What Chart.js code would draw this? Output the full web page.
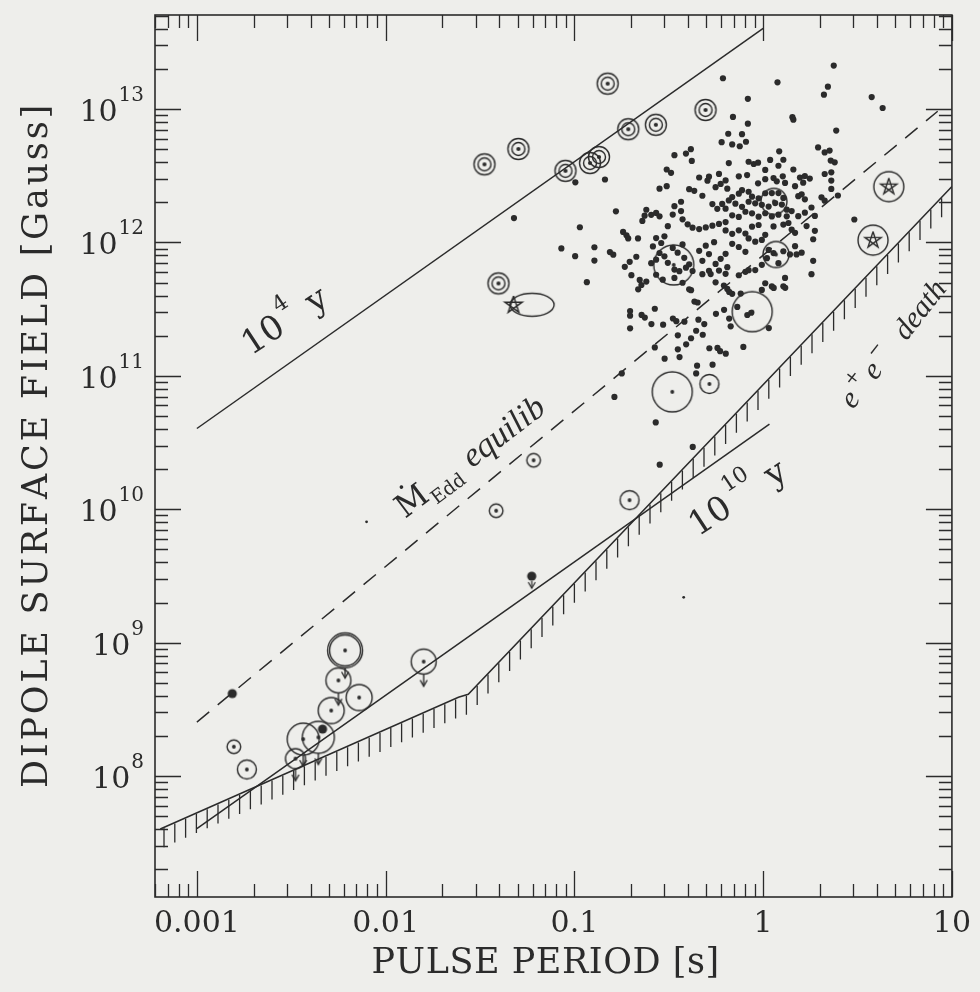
<!DOCTYPE html>
<html><head><meta charset="utf-8">
<script src="https://cdn.jsdelivr.net/npm/chart.js@4.4.1/dist/chart.umd.min.js"></script>
<style>html,body{margin:0;padding:0;background:#eeeeeb;}canvas{display:block;}</style>
</head><body>
<canvas id="c" width="980" height="992"></canvas>
<script>
// ---------------- data ----------------
const periodRange = [0.00064, 10];          // s
const fieldRange = [1.24e7, 5.07e13];       // Gauss
const xTickValues = [0.001, 0.01, 0.1, 1, 10];
const xTickLabels = ['0.001', '0.01', '0.1', '1', '10'];
const yTickValues = [1e8, 1e9, 1e10, 1e11, 1e12, 1e13];
const yTickExponents = ['8', '9', '10', '11', '12', '13'];

// reference lines [period s, field G]
const age1e4Line = [[0.001, 4.03e10], [1.0, 4.03e13]];
const age1e10Line = [[0.001, 4.03e7], [1.08, 4.35e10]];
const eddEquilibLine = [[0.001, 2.54e8], [8.41, 9.62e12]];
const deathLine = [[0.00064, 4.01e7], [0.0243, 3.90e8], [0.0274, 4.10e8], [10, 2.63e12]];

// special objects [period s, field G]
const binaryPulsars = [[0.0334,3.85e12],[0.0505,5.02e12],[0.0897,3.44e12],[0.121,3.94e12],[0.135,4.37e12],
  [0.150,1.55e13],[0.193,7.06e12],[0.270,7.62e12],[0.495,9.84e12],[0.0396,4.93e11]];
const ringedStars = [[4.63,2.62e12],[3.82,1.04e12]];
const ellipseStar = [[0.0476,3.40e11]];
const ellipseCentre = [[0.0597,3.41e11]];
const smallRings = [[0.0608,2.33e10],[0.0385,9.75e9],[0.00157,1.66e8]];
const mediumRings = [[0.196,1.17e10],[0.519,8.69e10],[0.00184,1.12e8]];
const largeRings = [[0.875,3.03e11],[0.330,7.59e10],[0.336,6.79e11]];
const plainRings = [[0.00724,3.88e8],[0.00515,3.10e8],[1.14,2.03e12],[1.17,8.13e11]];
const limitRings = [[0.00562,5.21e8],[0.0159,7.21e8]];
const bigLimitRings = [[0.00366,1.89e8],[0.00440,1.95e8]];
const smallLimitRings = [[0.00333,1.35e8]];
const doubleLimitRings = [[0.00610,8.75e8]];
const filledDots = [[0.00154,4.15e8],[0.00463,2.25e8]];
const filledLimitDots = [[0.0594,3.15e9]];
const faintDots = [[-2.101,9.906],[-0.421,9.340]]; // log10 P, log10 B

// ordinary radio pulsars: [log10 P (s), log10 B (G)]
const pulsarLogReadings = [
[0.374,13.326],[0.076,13.200],[-0.213,13.231],[0.343,13.168],[0.322,13.108],[0.575,13.090],[0.633,13.008],[-0.081,13.077],[0.155,12.939],[0.160,12.920],[-0.160,12.941],[-0.081,12.890],
[-0.995,12.451],[-0.971,12.114],[-1.069,11.955],[-0.996,11.897],[-0.934,11.702],[-1.320,12.183],[0.483,12.172],
[-0.185,12.815],[-0.112,12.812],[-0.220,12.752],[-0.164,12.735],[-0.124,12.721],[-0.091,12.755],[0.387,12.839],
[-0.470,12.654],[-0.409,12.666],[-0.383,12.699],[-0.378,12.611],[-0.511,12.547],[-0.488,12.522],[-0.838,12.472],[-0.549,12.403],[-0.511,12.422],
[-0.182,12.595],[-0.077,12.605],[-0.050,12.588],[-0.027,12.598],[0.011,12.544],[0.037,12.619],[0.085,12.683],[0.107,12.620],[0.081,12.575],[0.160,12.547],
[-0.339,12.487],[-0.287,12.493],[-0.295,12.463],[-0.234,12.514],[-0.199,12.465],[-0.129,12.496],[-0.085,12.505],[-0.027,12.443],[0.011,12.474],[0.055,12.483],[0.104,12.496],[0.072,12.458],[0.116,12.446],[0.195,12.486],[0.221,12.498],[0.247,12.479],[0.212,12.448],[0.326,12.513],[0.361,12.526],[0.291,12.712],[0.326,12.675],[0.352,12.689],[0.358,12.614],[0.379,12.601],[0.361,12.464],
[-0.392,12.399],[-0.365,12.387],[-0.322,12.350],[-0.252,12.414],[-0.225,12.439],[-0.190,12.403],[-0.164,12.340],[-0.129,12.366],[-0.112,12.392],[-0.077,12.380],[-0.059,12.343],[-0.024,12.331],[0.011,12.369],[0.046,12.370],[0.081,12.370],[0.107,12.334],[0.169,12.422],[0.186,12.347],[0.204,12.361],[0.221,12.323],[0.309,12.338],[0.326,12.313],[0.361,12.401],[0.396,12.352],
[-0.780,12.233],[-0.619,12.245],[-0.628,12.201],[-0.640,12.161],[-0.593,12.207],[-0.567,12.221],[-0.549,12.196],[-0.470,12.272],[-0.435,12.305],[-0.479,12.209],[-0.435,12.235],[-0.269,12.288],[-0.243,12.252],[-0.217,12.289],[-0.199,12.253],[-0.182,12.315],[-0.147,12.291],[-0.112,12.267],[-0.077,12.305],[-0.042,12.293],[-0.007,12.282],[0.029,12.269],[0.064,12.295],[0.099,12.284],[0.125,12.246],
[-0.427,12.173],[-0.400,12.136],[-0.374,12.111],[-0.339,12.100],[-0.304,12.113],[-0.269,12.126],[-0.234,12.139],[-0.199,12.153],[-0.164,12.203],[-0.129,12.191],[-0.094,12.230],[-0.059,12.218],[-0.024,12.193],[0.011,12.219],[0.046,12.195],[0.081,12.208],[0.125,12.196],[0.151,12.235],[0.186,12.197],[0.221,12.223],[0.256,12.262],[0.274,12.199],
[-0.742,12.079],[-0.724,12.054],[-0.715,12.030],[-0.663,12.030],[-0.523,12.046],[-0.505,12.122],[-0.567,12.033],[-0.540,11.996],[-0.584,11.970],[-0.199,12.090],[-0.164,12.065],[-0.129,12.091],[-0.094,12.067],[-0.059,12.118],[-0.024,12.131],[0.011,12.057],[0.055,12.120],[0.107,12.134],[0.134,12.146],[0.151,12.097],[0.169,12.072],[0.230,12.123],[0.274,12.087],[0.265,12.024],
[-0.894,11.964],[-0.894,11.864],[-0.812,11.928],[-0.794,11.908],[-0.672,11.893],[-0.707,11.855],[-0.733,11.817],[-0.698,11.755],[-0.654,11.719],[-0.619,11.707],[-0.593,11.845],[-0.567,11.871],[-0.549,11.921],[-0.523,11.896],[-0.505,11.847],[-0.479,11.959],[-0.453,11.923],[-0.427,11.985],[-0.418,11.885],[-0.470,11.797],[-0.444,11.785],[-0.409,11.811],[-0.392,11.836],[-0.374,11.786],[-0.339,11.937],[-0.304,11.976],[-0.287,11.913],[-0.260,12.002],[-0.322,11.862],[-0.287,11.788],[-0.252,11.839],[-0.225,11.877],[-0.199,11.915],[-0.190,11.815],[-0.164,11.990],[-0.129,11.966],[-0.094,11.930],[-0.077,12.030],[-0.042,12.006],[-0.007,12.019],[0.029,11.944],[0.020,11.882],[0.055,11.920],[0.081,11.845],[0.107,11.934],[0.142,11.910],[0.169,11.972],[0.177,11.910],[0.204,11.923],[0.265,11.862],[0.256,11.762],[0.116,11.734],
[-0.567,11.758],[-0.532,11.721],[-0.470,11.734],[-0.427,11.698],[-0.392,11.649],[-0.322,11.762],[-0.278,11.763],[-0.234,11.789],[-0.199,11.765],[-0.129,11.754],[-0.094,11.780],[-0.077,11.792],[-0.042,11.793],[-0.007,11.832],[0.011,11.694],[0.046,11.670],[0.107,11.671],[-0.645,11.681],[-0.252,11.701],[-0.208,11.677],[-0.190,11.652],[-0.164,11.615],[-0.007,11.644],
[-0.662,11.649],[-0.382,11.642],[-0.180,11.629],[-0.119,11.617],[0.056,11.659],[0.117,11.660],[-0.364,11.557],[-0.347,11.550],[-0.574,11.503],[-0.705,11.486],[-0.705,11.451],[-0.644,11.457],[-0.627,11.437],[-0.478,11.430],[-0.460,11.410],[-0.417,11.406],[-0.343,11.421],[-0.312,11.388],[-0.250,11.465],[-0.207,11.495],[-0.180,11.429],[-0.172,11.371],[-0.137,11.517],[-0.084,11.456],[-0.063,11.473],[0.030,11.358],[-0.705,11.356],[-0.592,11.388],[-0.530,11.384],[-0.452,11.304],[-0.382,11.282],[-0.408,11.236],[-0.355,11.338],[-0.320,11.308],[-0.574,11.213],[-0.452,11.199],[-0.443,11.141],[-0.285,11.207],[-0.242,11.209],[-0.228,11.185],[-0.198,11.166],[-0.105,11.217],[-0.522,11.129],[-0.350,11.076],[-0.355,11.018],[-0.268,11.084],[-0.749,11.018],[-0.788,10.842],[-0.569,10.651],[-0.373,10.467],[-0.548,10.334]
];

// ---------------- styling ----------------
const INK = '#2b2b2b';
const SERIF = '"DejaVu Serif", serif';
const ITAL = '"Liberation Serif", serif';
const pts = arr => arr.map(([p, b]) => ({x: p, y: b}));
const logPts = arr => arr.map(([lp, lb]) => ({x: Math.pow(10, lp), y: Math.pow(10, lb)}));

function marker(half, draw) {
  const c = document.createElement('canvas');
  c.width = c.height = half * 2;
  const g = c.getContext('2d');
  g.translate(half, half);
  g.strokeStyle = INK; g.fillStyle = INK; g.lineWidth = 1.4;
  draw(g);
  return c;
}
const ring = (g, r) => { g.beginPath(); g.arc(0, 0, r, 0, Math.PI * 2); g.stroke(); };
const dot = (g, r) => { g.beginPath(); g.arc(0, 0, r, 0, Math.PI * 2); g.fill(); };
const arrow = (g, from, len) => {
  g.beginPath(); g.moveTo(0, from); g.lineTo(0, from + len); g.stroke();
  g.beginPath(); g.moveTo(-3.5, from + len - 6); g.lineTo(0, from + len); g.lineTo(3.5, from + len - 6); g.stroke();
};
const star = (g, R) => {
  g.beginPath();
  for (let i = 0; i <= 5; i++) {
    const k = (i * 2) % 5, a = -Math.PI / 2 + k * 2 * Math.PI / 5;
    const px = R * Math.cos(a), py = R * Math.sin(a);
    if (i === 0) g.moveTo(px, py); else g.lineTo(px, py);
  }
  g.stroke();
};
const ringDot = (r) => marker(Math.ceil(r) + 3, g => { ring(g, r); dot(g, 1.9); });
const ringDotArrow = (r, len) => marker(Math.ceil(r + len) + 3, g => { ring(g, r); dot(g, 1.9); arrow(g, r, len); });

const M = {
  binary: marker(14, g => { ring(g, 10.5); ring(g, 6.5); dot(g, 2.1); }),
  ringedStar: marker(18, g => { ring(g, 15); g.lineWidth = 1.4; star(g, 8.5); }),
  star: marker(12, g => { g.lineWidth = 1.5; star(g, 9); }),
  ellipse: marker(26, g => { g.beginPath(); g.ellipse(0, 0, 22, 11.5, 0, 0, Math.PI * 2); g.stroke(); }),
  small: ringDot(6.8),
  medium: ringDot(9.5),
  large: ringDot(20),
  plain: ringDot(13),
  limit: ringDotArrow(12.5, 12),
  bigLimit: ringDotArrow(16, 11),
  smallLimit: ringDotArrow(10, 12),
  doubleLimit: marker(32, g => { ring(g, 17.5); ring(g, 15.5); dot(g, 1.9); arrow(g, 17.5, 10); }),
  filled: marker(8, g => dot(g, 4.6)),
  filledLimit: marker(16, g => { dot(g, 4.6); g.lineWidth = 1.2; arrow(g, 5, 7); })
};

const lineDs = (label, data, dash) => ({label, data: pts(data), showLine: true, pointRadius: 0,
  borderColor: INK, borderWidth: 1.5, borderDash: dash || [], backgroundColor: INK, fill: false});
const markDs = (label, data, style) => ({label, data: pts(data), pointStyle: style, pointRadius: 4, borderWidth: 0});

const datasets = [
  lineDs('e+e- death line', deathLine),
  lineDs('10^4 y', age1e4Line),
  lineDs('10^10 y', age1e10Line),
  lineDs('Mdot Edd equilib', eddEquilibLine, [16, 11]),
  {label: 'pulsars', data: logPts(pulsarLogReadings), pointStyle: 'circle', pointRadius: 3.1, backgroundColor: INK, borderWidth: 0},
  {label: 'faint', data: logPts(faintDots), pointStyle: 'circle', pointRadius: 1.4, backgroundColor: INK, borderWidth: 0},
  markDs('binary pulsars', binaryPulsars, M.binary),
  markDs('ringed stars', ringedStars, M.ringedStar),
  markDs('ellipse', ellipseCentre, M.ellipse),
  markDs('star', ellipseStar, M.star),
  markDs('small rings', smallRings, M.small),
  markDs('medium rings', mediumRings, M.medium),
  markDs('large rings', largeRings, M.large),
  markDs('rings', plainRings, M.plain),
  markDs('limit rings', limitRings, M.limit),
  markDs('big limit rings', bigLimitRings, M.bigLimit),
  markDs('small limit rings', smallLimitRings, M.smallLimit),
  markDs('double limit rings', doubleLimitRings, M.doubleLimit),
  markDs('filled', filledDots, M.filled),
  markDs('filled limit', filledLimitDots, M.filledLimit)
];

function drawRun(ctx, x, y, deg, parts) {
  ctx.save(); ctx.translate(x, y); ctx.rotate(deg * Math.PI / 180);
  ctx.fillStyle = INK; ctx.textAlign = 'left'; ctx.textBaseline = 'alphabetic';
  let cx = 0;
  for (const p of parts) {
    ctx.font = p.font; cx += (p.gap || 0);
    ctx.fillText(p.text, cx, -(p.raise || 0));
    cx += ctx.measureText(p.text).width;
  }
  ctx.restore();
}
function fitText(ctx, text, font, cx, cy, width, deg) {
  ctx.save(); ctx.translate(cx, cy); ctx.rotate(deg * Math.PI / 180);
  ctx.font = font; ctx.fillStyle = INK; ctx.textAlign = 'left'; ctx.textBaseline = 'alphabetic';
  const w0 = ctx.measureText(text).width;
  const sp = (width - w0) / (text.length - 1);
  let x = -width / 2;
  for (const ch of text) { ctx.fillText(ch, x, 0); x += ctx.measureText(ch).width + sp; }
  ctx.restore();
}

const decor = {
  id: 'decor',
  beforeDraw(chart) {
    const c = chart.ctx; c.save(); c.fillStyle = '#eeeeeb'; c.fillRect(0, 0, chart.width, chart.height); c.restore();
  },
  afterDatasetsDraw(chart) {
    const {ctx, chartArea: a} = chart;
    const idx = chart.data.datasets.findIndex(d => d.label === 'e+e- death line');
    const P = chart.getDatasetMeta(idx).data.map(e => ({x: e.x, y: e.y}));
    ctx.save();
    ctx.beginPath(); ctx.rect(a.left, a.top, a.right - a.left, a.bottom - a.top); ctx.clip();
    ctx.strokeStyle = INK; ctx.lineWidth = 1.3; ctx.beginPath();
    for (let hx = a.left + 9; hx < a.right - 2; hx += 10.8) {
      for (let i = 0; i < P.length - 1; i++) {
        if (hx >= P[i].x && hx <= P[i + 1].x) {
          const t = (hx - P[i].x) / (P[i + 1].x - P[i].x);
          const hy = P[i].y + t * (P[i + 1].y - P[i].y);
          ctx.moveTo(hx, hy + 1); ctx.lineTo(hx, hy + 20);
          break;
        }
      }
    }
    ctx.stroke(); ctx.restore();
  },
  afterDraw(chart) {
    const {ctx, chartArea: a, scales: {x, y}} = chart;
    ctx.save();
    ctx.strokeStyle = INK; ctx.lineWidth = 1.6;
    ctx.strokeRect(a.left, a.top, a.right - a.left, a.bottom - a.top);
    ctx.lineWidth = 1.3; ctx.beginPath();
    for (let e = -4; e <= 1; e++) for (let m = 1; m <= 9; m++) {
      const v = m * Math.pow(10, e);
      if (v < x.min * 0.9999 || v > x.max * 1.0001) continue;
      const px = Math.round(x.getPixelForValue(v)) + 0.5, L = m === 1 ? 26 : 13;
      ctx.moveTo(px, a.bottom); ctx.lineTo(px, a.bottom - L);
      ctx.moveTo(px, a.top); ctx.lineTo(px, a.top + L);
    }
    for (let e = 7; e <= 13; e++) for (let m = 1; m <= 9; m++) {
      const v = m * Math.pow(10, e);
      if (v < y.min * 0.9999 || v > y.max * 1.0001) continue;
      const py = Math.round(y.getPixelForValue(v)) + 0.5, L = m === 1 ? 26 : 13;
      ctx.moveTo(a.left, py); ctx.lineTo(a.left + L, py);
      ctx.moveTo(a.right, py); ctx.lineTo(a.right - L, py);
    }
    ctx.stroke();
    // y tick labels 10^n
    ctx.fillStyle = INK; ctx.textBaseline = 'alphabetic'; ctx.textAlign = 'left';
    yTickValues.forEach((v, i) => {
      const py = y.getPixelForValue(v);
      ctx.font = `30px ${SERIF}`; const w1 = ctx.measureText('10').width;
      ctx.font = `20px ${SERIF}`; const w2 = ctx.measureText(yTickExponents[i]).width;
      const x0 = 144 - w2 - 1 - w1;
      ctx.font = `30px ${SERIF}`; ctx.fillText('10', x0, py + 12);
      ctx.font = `20px ${SERIF}`; ctx.fillText(yTickExponents[i], x0 + w1 + 1, py - 8);
    });
    // axis titles
    fitText(ctx, 'DIPOLE SURFACE FIELD [Gauss]', `35px ${SERIF}`, 47, 448, 680, -90);
    fitText(ctx, 'PULSE PERIOD [s]', `35px ${SERIF}`, 545, 973, 347, 0);
    // in-plot annotations
    drawRun(ctx, 251, 356, -33.5, [
      {text: '10', font: `34px ${SERIF}`},
      {text: '4', font: `22px ${SERIF}`, gap: 3, raise: 21},
      {text: 'y', font: `34px ${SERIF}`, gap: 16}]);
    drawRun(ctx, 698, 537, -33.5, [
      {text: '10', font: `34px ${SERIF}`},
      {text: '10', font: `22px ${SERIF}`, gap: 5, raise: 21},
      {text: 'y', font: `34px ${SERIF}`, gap: 14}]);
    drawRun(ctx, 405, 519, -37, [
      {text: 'Ṁ', font: `32px ${SERIF}`},
      {text: 'Edd', font: `19px ${SERIF}`, gap: 1, raise: -8},
      {text: 'equilib', font: `italic 34px ${ITAL}`, gap: 12}]);
    drawRun(ctx, 853, 410, -52, [
      {text: 'e', font: `italic 30px ${ITAL}`},
      {text: '+', font: `18px ${SERIF}`, gap: 4, raise: 15},
      {text: 'e', font: `italic 30px ${ITAL}`, gap: 4},
      {text: '−', font: `18px ${SERIF}`, gap: 4, raise: 15},
      {text: 'death', font: `italic 30px ${ITAL}`, gap: 18}]);
    ctx.restore();
  }
};

new Chart(document.getElementById('c'), {
  type: 'scatter',
  data: {datasets},
  options: {
    responsive: false, animation: false, events: [], devicePixelRatio: 1,
    layout: {padding: {left: 0, top: 15, right: 25, bottom: 0}},
    plugins: {legend: {display: false}, tooltip: {enabled: false}},
    scales: {
      x: {
        type: 'logarithmic', min: periodRange[0], max: periodRange[1],
        grid: {display: false, drawTicks: false}, border: {display: false},
        afterBuildTicks: s => { s.ticks = xTickValues.map(v => ({value: v})); },
        afterFit: s => { s.height = 95; },
        ticks: {autoSkip: false, maxRotation: 0, padding: 9, color: INK,
          font: {family: '"DejaVu Serif", serif', size: 30},
          callback: (v) => { const i = xTickValues.findIndex(t => Math.abs(t - v) / t < 1e-6); return i >= 0 ? xTickLabels[i] : ''; }}
      },
      y: {
        type: 'logarithmic', min: fieldRange[0], max: fieldRange[1],
        grid: {display: false, drawTicks: false}, border: {display: false},
        ticks: {display: false},
        afterFit: s => { s.width = 155; }
      }
    }
  },
  plugins: [decor]
});
</script>
</body></html>
